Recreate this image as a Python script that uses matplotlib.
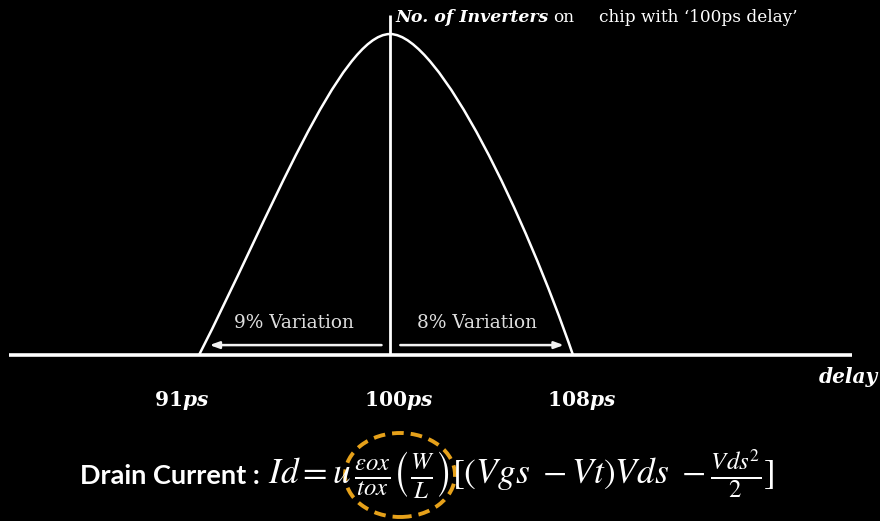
import numpy as np
import matplotlib
matplotlib.use("Agg")
import matplotlib.pyplot as plt
from matplotlib.patches import Ellipse, PathPatch
from matplotlib.path import Path

# Delay distribution of inverters on a chip (schematic)
delay_ticks = [91, 100, 108]
tick_numbers = ["91", "100", "108"]

# each half of the bell is a cubic Bezier: (delay in ps, relative count in %)
left_ctrl_delay = [91.0, 94.3, 97.64, 100.0]
left_ctrl_count = [0.0, 42.7, 100.0, 100.0]
right_ctrl_delay = [100.0, 102.19, 105.95, 108.0]
right_ctrl_count = [100.0, 100.0, 42.4, 0.0]

nominal = 100
variation_labels = ["9% Variation", "8% Variation"]


# piecewise-linear delay axis: left and right of the nominal delay use their own spacing
def fwd(x):
    x = np.asarray(x, dtype=float)
    return np.where(x < 100, 390 + (x - 100) * 191 / 9, 390 + (x - 100) * 183 / 8)


def inv(p):
    p = np.asarray(p, dtype=float)
    return np.where(p < 390, 100 + (p - 390) * 9 / 191, 100 + (p - 390) * 8 / 183)


plt.rcParams["mathtext.fontset"] = "custom"
plt.rcParams["mathtext.bf"] = "DejaVu Serif:bold"
plt.rcParams["mathtext.it"] = "DejaVu Serif:italic:bold"
plt.rcParams["mathtext.rm"] = "DejaVu Serif"

fig = plt.figure(figsize=(8.8, 5.21), dpi=100, facecolor="black")
ax = fig.add_axes([0, 0, 1, 1])
ax.set_facecolor("black")
ax.set_xscale("function", functions=(fwd, inv))
ax.set_xlim(float(inv(0)), float(inv(880)))
ax.set_ylim(-51.7, 110.6)
ax.axis("off")

white = "white"
serif = ["DejaVu Serif"]


def fx(px):
    return px / 880


def fy(py):
    return 1 - py / 521


# baseline (delay axis) and vertical count axis
ax.plot([float(inv(9)), float(inv(852))], [0, 0], color=white, lw=2.6, solid_capstyle="butt")
ax.plot([nominal, nominal], [0, 106.0], color=white, lw=2.0, solid_capstyle="butt")

# distribution curve
codes = [Path.MOVETO, Path.CURVE4, Path.CURVE4, Path.CURVE4]
for xs, ys in ((left_ctrl_delay, left_ctrl_count), (right_ctrl_delay, right_ctrl_count)):
    path = Path(np.column_stack([xs, ys]), codes)
    ax.add_patch(PathPatch(path, facecolor="none", edgecolor=white, lw=1.8,
                           transform=ax.transData))

# variation arrows
arrow_style = dict(arrowstyle="-|>,head_length=0.55,head_width=0.2",
                   color="#f2f2f2", lw=1.8, shrinkA=0, shrinkB=0)
ax.annotate("", xy=(91.5, 3.1), xytext=(99.6, 3.1), arrowprops=arrow_style)
ax.annotate("", xy=(107.6, 3.1), xytext=(100.45, 3.1), arrowprops=arrow_style)
ax.text(fx(294), fy(323), variation_labels[0], transform=ax.transAxes, color="#dedede",
        fontsize=13.3, family=serif, ha="center", va="center")
ax.text(fx(477), fy(323), variation_labels[1], transform=ax.transAxes, color="#dedede",
        fontsize=13.3, family=serif, ha="center", va="center")

# tick labels under the delay axis
label_centres = [181, 399, 582]
for t, num, cx in zip(delay_ticks, tick_numbers, label_centres):
    ax.text(fx(cx), fy(401), r"$\mathbf{%s}\mathit{ps}$" % num, transform=ax.transAxes,
            color=white, fontsize=14.5, math_fontfamily="custom", ha="center", va="center")

ax.text(fx(878), fy(377), "delay", transform=ax.transAxes, color=white,
        fontsize=14.5, family=serif, weight="bold", style="italic", ha="right", va="center")

# title of the count axis
ax.text(fx(395), fy(17), "No. of Inverters", transform=ax.transAxes, color=white,
        fontsize=12.5, family=serif, weight="bold", style="italic", ha="left", va="center")
ax.text(fx(553), fy(17), "on", transform=ax.transAxes, color=white,
        fontsize=12.2, family=serif, ha="left", va="center")
ax.text(fx(798), fy(17), "chip with \u2018100ps delay\u2019", transform=ax.transAxes,
        color=white, fontsize=12.2, family=serif, ha="right", va="center")

# drain current equation
ax.text(fx(80), fy(484), "Drain Current :", transform=ax.transAxes, color=white,
        fontsize=19.5, family=["Lato"], weight="bold", ha="left", va="baseline")
eq = (r"$Id{=}u\,\frac{\varepsilon ox}{tox}\left(\frac{W}{L}\right)"
      r"[(Vgs\ -Vt)Vds\ -\frac{Vds^2}{2}]$")
ax.text(fx(268), fy(484), eq, transform=ax.transAxes, color=white,
        fontsize=25.5, math_fontfamily="stix", ha="left", va="baseline")

# highlight around the geometry term
ax.add_patch(Ellipse((fx(400), fy(475)), 110 / 880, 84 / 521, transform=ax.transAxes,
                     fill=False, edgecolor="#e6a11a", lw=2.8, linestyle=(0, (3, 1.8))))

fig.savefig("out.png", dpi=100, facecolor="black")
